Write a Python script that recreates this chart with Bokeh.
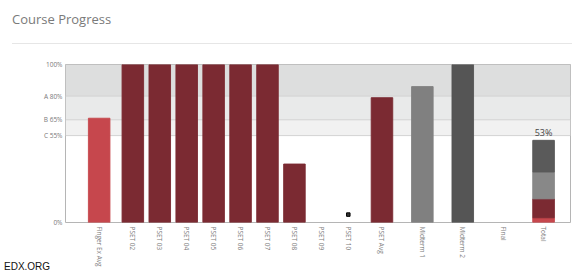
from bokeh.plotting import figure
from bokeh.layouts import column
from bokeh.models import (ColumnDataSource, FixedTicker, BoxAnnotation, Span, Label, Range1d, Div)
from bokeh.embed import file_html
from bokeh.resources import INLINE

# ---------------- data ----------------
page_title = "Course Progress"
watermark = "EDX.ORG"
categories = ["Finger Ex Avg", "PSET 02", "PSET 03", "PSET 04", "PSET 05", "PSET 06",
              "PSET 07", "PSET 08", "PSET 09", "PSET 10", "PSET Avg", "Midterm 1",
              "Midterm 2", "Final", "Total"]
scores = [0.66, 1.0, 1.0, 1.0, 1.0, 1.0, 1.0, 0.37, 0.0, 0.0, 0.79, 0.86, 1.0, 0.0, None]
kinds = ["finger", "pset", "pset", "pset", "pset", "pset", "pset", "pset", "pset", "pset",
         "pset", "mid1", "mid2", "final", "total"]
dropped = ["PSET 10"]
dropped_value = 0.05
total_parts = [0.03, 0.12, 0.17, 0.20]          # finger, pset, midterm 1, midterm 2
total_kinds = ["finger", "pset", "mid1t", "mid2t"]
total_label = "53%"
grade_cutoffs = [0.55, 0.65, 0.80, 1.0]
y_tick_values = [0.0, 0.55, 0.65, 0.80, 1.0]
y_tick_labels = ["0%", "C 55%", "B 65%", "A 80%", "100%"]

# ---------------- layout / style ----------------
colors = {"finger": "#c6474d", "pset": "#7b2a32", "mid1": "#808080", "mid2": "#555555",
          "mid1t": "#888888", "mid2t": "#5a5a5a", "final": "#555555", "total": "#555555"}
steps = [1.25, 1, 1, 1, 1, 1, 1, 1, 1, 1.25, 1.5, 1.5, 1.5, 1.5]
positions = [1.25]
for s in steps:
    positions.append(positions[-1] + s)
pos_of = dict(zip(categories, positions))

W = 580
HEAD = 44
FIG_H = 275 - HEAD
L, R, T, B = 65, 10, 20, 53

p = figure(width=W, height=FIG_H, output_backend="svg", toolbar_location=None,
           x_range=Range1d(0, positions[-1] + 1.0), y_range=Range1d(0, 1.0),
           min_border_left=L, min_border_right=R, min_border_top=T, min_border_bottom=B,
           background_fill_color="white", border_fill_color="white", margin=0)
p.outline_line_color = "#b5b5b5"
p.outline_line_width = 1
p.grid.visible = False

# grade bands
band_colors = ["#f1f1f1", "#e9eaea", "#dddede"]
for lo, hi, c in zip(grade_cutoffs[:-1], grade_cutoffs[1:], band_colors):
    p.add_layout(BoxAnnotation(bottom=lo, top=hi, fill_color=c, fill_alpha=1.0,
                               line_color=None, level="underlay"))
for v in grade_cutoffs[:-1]:
    p.add_layout(Span(location=v, dimension="width", line_color="#d2d2d2",
                      line_width=1, level="underlay"))

# bars
bx, by, bc = [], [], []
for cat, sc, k in zip(categories, scores, kinds):
    if sc is None or sc <= 0:
        continue
    bx.append(pos_of[cat]); by.append(sc); bc.append(colors[k])
src = ColumnDataSource(dict(x=bx, top=by, color=bc))
p.vbar(x="x", top="top", bottom=0, width=0.8, source=src,
       fill_color="color", line_color="color", line_alpha=0.9)

# total stacked bar
bottoms, tops, tc = [], [], []
acc = 0.0
for v, k in zip(total_parts, total_kinds):
    bottoms.append(acc); tops.append(acc + v); tc.append(colors[k]); acc += v
tsrc = ColumnDataSource(dict(x=[pos_of["Total"]] * len(total_parts), bottom=bottoms,
                             top=tops, color=tc))
p.vbar(x="x", bottom="bottom", top="top", width=0.8, source=tsrc,
       fill_color="color", line_color="color")
p.add_layout(Label(x=pos_of["Total"], y=acc, text=total_label, text_align="center",
                   text_baseline="bottom", y_offset=1, text_font_size="9px",
                   text_color="#444444", text_font="Open Sans"))

# dropped marker
p.scatter(x=[pos_of[c] for c in dropped], y=[dropped_value] * len(dropped),
          marker="square", size=3.5, fill_color="#333333", line_color="#000000")

# axes
p.yaxis.ticker = FixedTicker(ticks=y_tick_values)
p.yaxis.major_label_overrides = {v: l for v, l in zip(y_tick_values, y_tick_labels)}
p.xaxis.ticker = FixedTicker(ticks=positions)
p.xaxis.major_label_overrides = {pos: c for pos, c in zip(positions, categories)}
p.xaxis.major_label_orientation = "vertical"
for ax in (p.xaxis, p.yaxis):
    ax.axis_line_color = None
    ax.major_tick_line_color = None
    ax.minor_tick_line_color = None
    ax.major_tick_out = 0
    ax.major_tick_in = 0
    ax.minor_tick_out = 0
    ax.minor_tick_in = 0
    ax.major_label_text_font = "Open Sans"
    ax.major_label_text_font_size = "6.5px"
    ax.major_label_text_color = "#7a7a7a"
p.yaxis.major_label_standoff = 3
p.xaxis.major_label_standoff = 4

# page header: title and rule
head_html = (
    '<div style="position:absolute;left:12px;top:10px;font-family:\'Open Sans\';'
    'font-size:13px;line-height:18px;color:#7a7a7a;white-space:nowrap">'
    + page_title + '</div>'
    '<div style="position:absolute;left:12px;top:43px;width:560px;height:1px;'
    'background:#e6e6e6"></div>'
)
head = Div(text=head_html, width=W, height=HEAD, margin=0,
           styles={"position": "relative", "overflow": "visible"})

# watermark
mark = Div(text=watermark, width=60, height=12, margin=0,
           styles={"position": "absolute", "left": "4px", "top": "261px",
                   "font-family": "'Liberation Sans'", "font-size": "10px",
                   "line-height": "12px", "color": "#111111", "z-index": "10",
                   "white-space": "nowrap"})

layout = column(head, p, mark, spacing=0, margin=0)
open("out.html", "w").write(file_html(layout, INLINE))
